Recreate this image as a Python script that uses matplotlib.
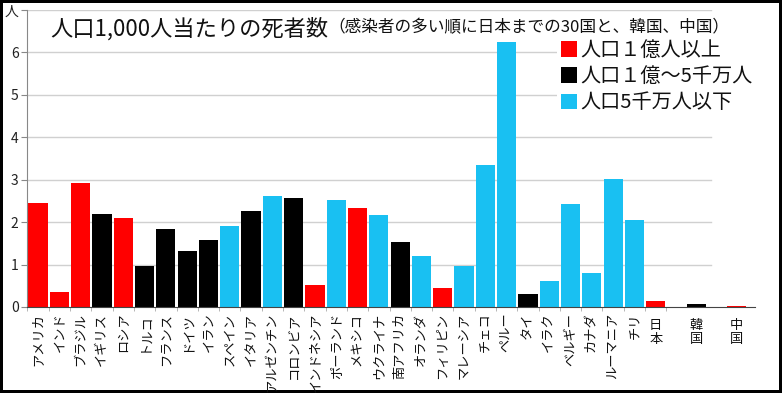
import matplotlib
matplotlib.use("Agg")
import matplotlib.pyplot as plt
from matplotlib.patches import Patch
from matplotlib.transforms import blended_transform_factory, offset_copy

plt.rcParams['font.family'] = ['Noto Sans CJK JP', 'DejaVu Sans']

countries = ["アメリカ", "インド", "ブラジル", "イギリス", "ロシア", "トルコ", "フランス", "ドイツ",
             "イラン", "スペイン", "イタリア", "アルゼンチン", "コロンビア", "インドネシア", "ポーランド",
             "メキシコ", "ウクライナ", "南アフリカ", "オランダ", "フィリピン", "マレーシア", "チェコ",
             "ペルー", "タイ", "イラク", "ベルギー", "カナダ", "ルーマニア", "チリ", "日本", "韓国", "中国"]
deaths = [2.46, 0.35, 2.93, 2.20, 2.10, 0.97, 1.84, 1.32, 1.58, 1.91, 2.27, 2.62, 2.57, 0.52, 2.53,
          2.34, 2.17, 1.54, 1.20, 0.45, 0.97, 3.35, 6.24, 0.30, 0.61, 2.43, 0.80, 3.02, 2.05,
          0.14, 0.08, 0.02]
groups = ["big", "big", "big", "mid", "big", "mid", "mid", "mid", "mid", "small", "mid", "small",
          "mid", "big", "small", "big", "small", "mid", "small", "big", "small", "small", "small",
          "mid", "small", "small", "small", "small", "small", "big", "mid", "big"]
legend_labels = ["人口１億人以上", "人口１億～5千万人", "人口5千万人以下"]
ytick_labels = ["0", "1", "2", "3", "4", "5", "6", "人"]
title = "人口1,000人当たりの死者数"
subtitle = "（感染者の多い順に日本までの30国と、韓国、中国）"
stacked = ("日本", "韓国", "中国")

colors = {"big": "#FF0000", "mid": "#000000", "small": "#19C0F2"}
xpos = list(range(30)) + [30.9, 32.8]

W, H = 782, 393
fig = plt.figure(figsize=(W / 100, H / 100), dpi=100)
fig.patch.set_facecolor("white")
fig.patch.set_edgecolor("black")
fig.patch.set_linewidth(3)

ax = fig.add_axes([27 / W, 1 - 307 / H, (755 - 27) / W, (307 - 10) / H])
ax.set_xlim(-0.52, 33.66)
ax.set_ylim(0, 7)

for y in range(1, 8):
    ax.axhline(y, xmin=0, xmax=0.94, color="#D0D0D0", lw=1, zorder=0)

ax.bar(xpos, deaths, width=0.9, color=[colors[g] for g in groups], zorder=2)

ax.set_yticks(range(8))
ax.set_yticklabels(ytick_labels, fontsize=10, color="#222222")
ax.tick_params(axis="y", length=4, color="#888888", pad=2)

# rotated katakana labels as tick labels; stacked kanji labels drawn as text
ax.set_xticks(xpos)
ax.set_xticklabels([c if c not in stacked else "" for c in countries],
                   fontsize=9.5, color="#111111", rotation=90, va="top", ha="center")
ax.tick_params(axis="x", length=0, pad=4)
trans = offset_copy(blended_transform_factory(ax.transData, ax.transAxes), fig=fig, x=0, y=-9, units="points")
for x, c in zip(xpos, countries):
    if c in stacked:
        ax.text(x, 0, "\n".join(c), transform=trans, fontsize=9.5, color="#111111",
                ha="center", va="top", linespacing=1.05)
ax.set_xticks([k - 0.5 for k in range(31)], minor=True)
ax.tick_params(axis="x", which="minor", length=3, color="#AAAAAA")

for s in ("top", "right"):
    ax.spines[s].set_visible(False)
ax.spines["left"].set_color("#888888")
ax.spines["bottom"].set_color("#444444")

t1 = fig.text(50 / W, 1 - 29 / H, title, fontsize=16, va="center", ha="left", color="#111111")
ax.annotate(subtitle, xy=(1, 0.5), xycoords=t1, xytext=(0, 1), textcoords="offset points",
            fontsize=12, va="center", ha="left", color="#111111", annotation_clip=False)

handles = [Patch(facecolor=colors[g]) for g in ("big", "mid", "small")]
leg = fig.legend(handles, legend_labels, loc="upper left", bbox_to_anchor=(557 / W, 1 - 36 / H),
                 fontsize=14.5, frameon=True, facecolor="white", edgecolor="none", framealpha=1,
                 handlelength=0.78, handleheight=0.78, handletextpad=0.2, labelspacing=0.25,
                 borderpad=0.2, borderaxespad=0, fancybox=False)
for t in leg.get_texts():
    t.set_color("#111111")

fig.savefig("out.png", dpi=100, facecolor=fig.get_facecolor(), edgecolor=fig.get_edgecolor())
